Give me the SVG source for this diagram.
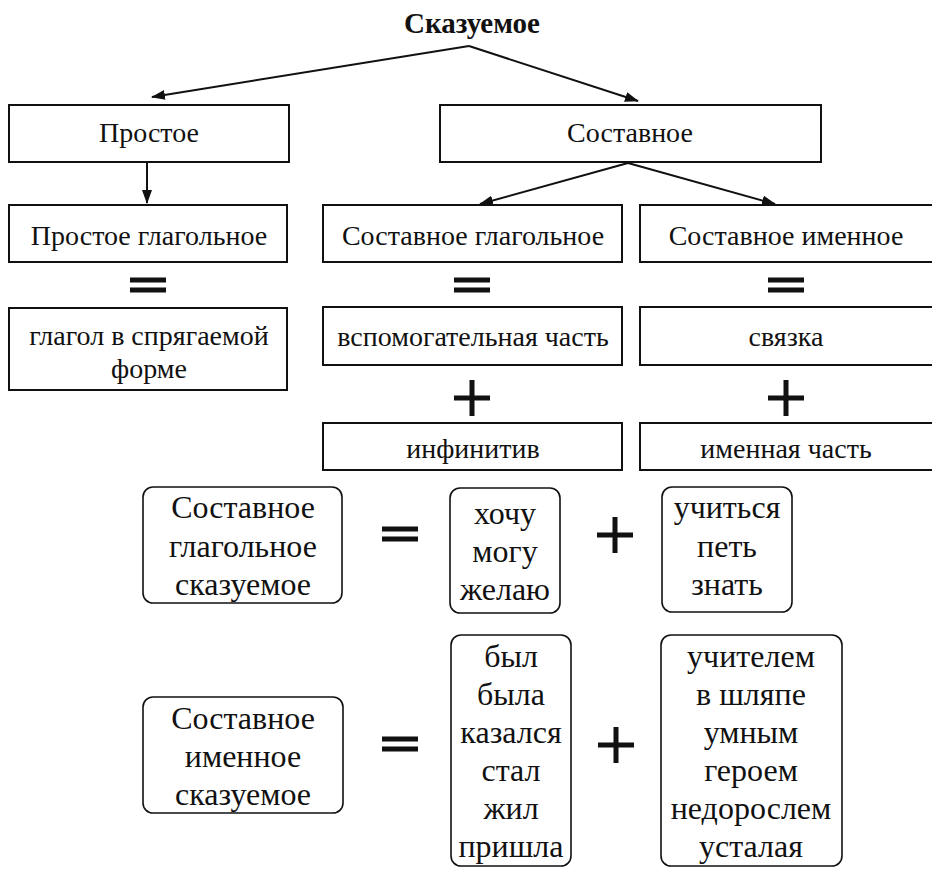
<svg xmlns="http://www.w3.org/2000/svg" width="932" height="870" viewBox="0 0 932 870">
<style>
.t,.l,.title{font-family:'Liberation Serif','DejaVu Serif',serif;fill:#111;text-anchor:middle}
.t{font-size:28px}
.l{font-size:32px}
.title{font-size:29px;font-weight:bold}
.box{fill:#fff;stroke:#111;stroke-width:2}
.rbox{fill:#fff;stroke:#111;stroke-width:1.6}
.conn{stroke:#111;stroke-width:2;fill:none;marker-end:url(#ah)}
.sym{fill:#111}
</style>
<defs>
<marker id="ah" viewBox="0 0 14 10" refX="13" refY="5" markerWidth="14" markerHeight="10" markerUnits="userSpaceOnUse" orient="auto">
<path d="M0,0 L14,5 L0,10 Z" fill="#111"/>
</marker>
<g id="eq"><rect x="-18" y="-7.5" width="36" height="5"/><rect x="-18" y="2.5" width="36" height="5"/></g>
<g id="plus"><rect x="-18" y="-2.5" width="36" height="5"/><rect x="-2.5" y="-18" width="5" height="36"/></g>
</defs>

<g id="title"><text class="title" x="472" y="33">Сказуемое</text></g>

<g id="connectors">
<path class="conn" d="M469,46 L152,97"/>
<path class="conn" d="M469,46 L638,101"/>
<path class="conn" d="M147,162 L147,203"/>
<path class="conn" d="M628,163 L480,204"/>
<path class="conn" d="M628,163 L775,204"/>
</g>

<g id="n-prostoe"><rect class="box" x="9" y="105" width="280" height="57"/><text class="t" x="149" y="142">Простое</text></g>
<g id="n-sostavnoe"><rect class="box" x="440" y="105" width="381" height="57"/><text class="t" x="630" y="142">Составное</text></g>

<g id="n-pg"><rect class="box" x="9" y="205" width="278" height="57"/><text class="t" x="149" y="245">Простое глагольное</text></g>
<g id="n-sg"><rect class="box" x="323" y="205" width="299" height="57"/><text class="t" x="473" y="245">Составное глагольное</text></g>
<g id="n-si"><rect class="box" x="640" y="205" width="294" height="57"/><text class="t" x="786" y="245">Составное именное</text></g>

<g id="eq-row" class="sym">
<use href="#eq" x="148" y="285"/>
<use href="#eq" x="472" y="285"/>
<use href="#eq" x="786" y="285"/>
</g>

<g id="n-glagol"><rect class="box" x="9" y="308" width="278" height="82"/><text class="t" x="149" y="345">глагол в спрягаемой</text><text class="t" x="149" y="378">форме</text></g>
<g id="n-vsp"><rect class="box" x="323" y="307" width="299" height="58"/><text class="t" x="473" y="346">вспомогательная часть</text></g>
<g id="n-svyazka"><rect class="box" x="640" y="307" width="294" height="58"/><text class="t" x="786" y="346">связка</text></g>

<g id="plus-row" class="sym">
<use href="#plus" x="472" y="398"/>
<use href="#plus" x="786" y="398"/>
</g>

<g id="n-inf"><rect class="box" x="323" y="423" width="299" height="47"/><text class="t" x="473" y="458">инфинитив</text></g>
<g id="n-imch"><rect class="box" x="640" y="423" width="294" height="47"/><text class="t" x="786" y="458">именная часть</text></g>

<g id="n-sgs"><rect class="rbox" x="143" y="487" width="199" height="116" rx="10"/>
<text class="l" x="243" y="518">Составное</text><text class="l" x="243" y="557">глагольное</text><text class="l" x="243" y="595">сказуемое</text></g>
<g id="eq1" class="sym"><use href="#eq" x="400" y="534"/></g>
<g id="n-hochu"><rect class="rbox" x="450" y="488" width="110" height="125" rx="10"/>
<text class="l" x="505" y="524">хочу</text><text class="l" x="505" y="562">могу</text><text class="l" x="505" y="600">желаю</text></g>
<g id="plus1" class="sym"><use href="#plus" x="615" y="535"/></g>
<g id="n-uchit"><rect class="rbox" x="662" y="487" width="130" height="125" rx="10"/>
<text class="l" x="727" y="518">учиться</text><text class="l" x="727" y="557">петь</text><text class="l" x="727" y="595">знать</text></g>

<g id="n-sis"><rect class="rbox" x="143" y="697" width="200" height="116" rx="10"/>
<text class="l" x="243" y="729">Составное</text><text class="l" x="243" y="767">именное</text><text class="l" x="243" y="805">сказуемое</text></g>
<g id="eq2" class="sym"><use href="#eq" x="400" y="744"/></g>
<g id="n-byl"><rect class="rbox" x="451" y="635" width="120" height="231" rx="10"/>
<text class="l" x="511" y="667">был</text><text class="l" x="511" y="705">была</text><text class="l" x="511" y="743">казался</text><text class="l" x="511" y="781">стал</text><text class="l" x="511" y="819">жил</text><text class="l" x="511" y="857">пришла</text></g>
<g id="plus2" class="sym"><use href="#plus" x="616" y="745"/></g>
<g id="n-uchitelem"><rect class="rbox" x="661" y="635" width="181" height="231" rx="10"/>
<text class="l" x="751" y="667">учителем</text><text class="l" x="751" y="705">в шляпе</text><text class="l" x="751" y="743">умным</text><text class="l" x="751" y="781">героем</text><text class="l" x="751" y="819">недорослем</text><text class="l" x="751" y="857">усталая</text></g>
</svg>
